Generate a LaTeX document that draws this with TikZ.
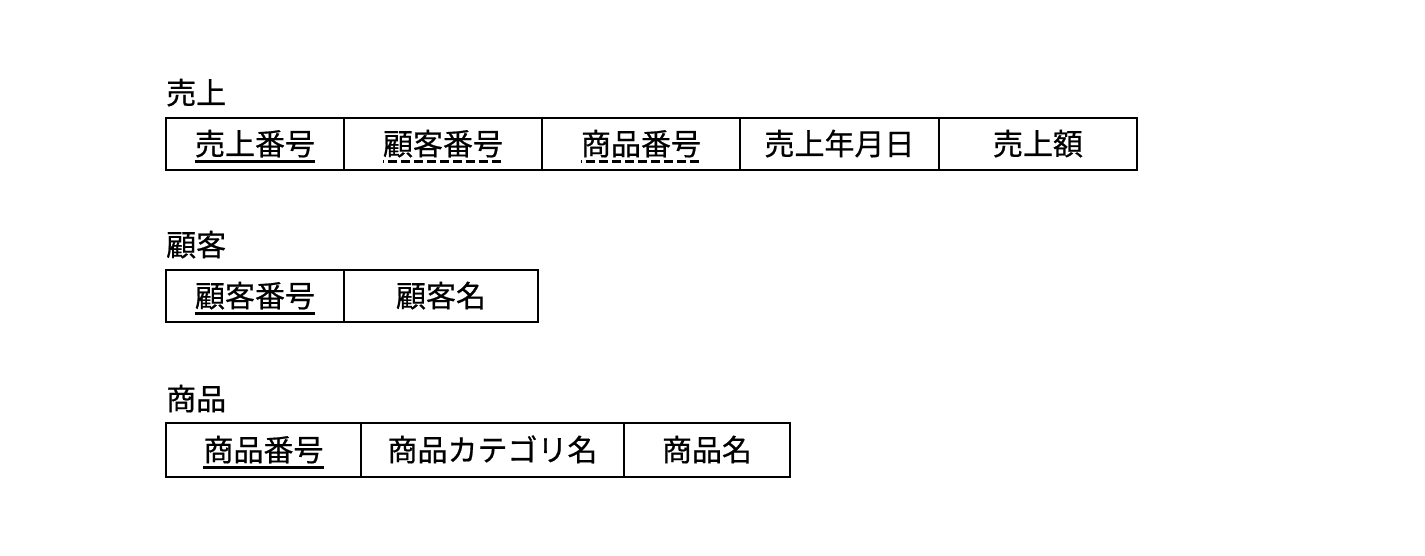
\documentclass[tikz,border=0pt]{standalone}
\usepackage{fontspec}
\setmainfont{Noto Sans CJK JP}[FakeBold=0.6]
\begin{document}
\begin{tikzpicture}[x=1pt,y=-1pt,
  cell/.style={draw=black, line width=2.8pt, rectangle, inner sep=0pt},
  txt/.style={inner sep=0pt, anchor=center, text height=22pt, text depth=0pt,
    font=\fontsize{30}{30}\selectfont},
  title/.style={inner sep=0pt, anchor=base west, font=\fontsize{30}{30}\selectfont},
  pk/.style={line width=2.8pt},
  fk/.style={line width=2.8pt, dash pattern=on 1.5pt off 4pt on 8.5pt off 4.5pt on 8.5pt off 4.5pt on 8.5pt off 4.5pt on 8.5pt off 4.5pt on 8.5pt off 4.5pt on 8.5pt off 4.5pt on 8.5pt off 4.5pt on 8.5pt off 4.5pt on 8.5pt off 4.5pt on 8.5pt off 4.5pt}]
\useasboundingbox[fill=white] (0,0) rectangle (1425,556);

% ---- 売上 ----
\node[title] (t1) at (166,104) {売上};
\node[cell, minimum width=178pt, minimum height=52pt] (a1) at (255,144) {};
\node[cell, minimum width=198pt, minimum height=52pt] (a2) at (443,144) {};
\node[cell, minimum width=198pt, minimum height=52pt] (a3) at (641,144) {};
\node[cell, minimum width=199pt, minimum height=52pt] (a4) at (839.5,144) {};
\node[cell, minimum width=198pt, minimum height=52pt] (a5) at (1038,144) {};
\node[txt] (a1t) at (a1.center) {売上番号};
\node[txt] (a2t) at (a2.center) {顧客番号};
\node[txt] (a3t) at (a3.center) {商品番号};
\node[txt] (a4t) at (a4.center) {売上年月日};
\node[txt] (a5t) at (a5.center) {売上額};
\draw[pk] ([yshift=-6pt]a1t.south west) -- ([yshift=-6pt]a1t.south east);
\draw[fk] ([yshift=-6pt]a2t.south west) -- ([yshift=-6pt]a2t.south east);
\draw[fk] ([yshift=-6pt]a3t.south west) -- ([yshift=-6pt]a3t.south east);

% ---- 顧客 ----
\node[title] (t2) at (166,256) {顧客};
\node[cell, minimum width=178pt, minimum height=52pt] (b1) at (255,296) {};
\node[cell, minimum width=194pt, minimum height=52pt] (b2) at (441,296) {};
\node[txt] (b1t) at (b1.center) {顧客番号};
\node[txt] (b2t) at (b2.center) {顧客名};
\draw[pk] ([yshift=-6pt]b1t.south west) -- ([yshift=-6pt]b1t.south east);

% ---- 商品 ----
\node[title] (t3) at (166,410) {商品};
\node[cell, minimum width=195pt, minimum height=54pt] (c1) at (263.5,450) {};
\node[cell, minimum width=263pt, minimum height=54pt] (c2) at (492.5,450) {};
\node[cell, minimum width=166pt, minimum height=54pt] (c3) at (707,450) {};
\node[txt] (c1t) at (c1.center) {商品番号};
\node[txt] (c2t) at (c2.center) {商品カテゴリ名};
\node[txt] (c3t) at (c3.center) {商品名};
\draw[pk] ([yshift=-6pt]c1t.south west) -- ([yshift=-6pt]c1t.south east);
\end{tikzpicture}
\end{document}
